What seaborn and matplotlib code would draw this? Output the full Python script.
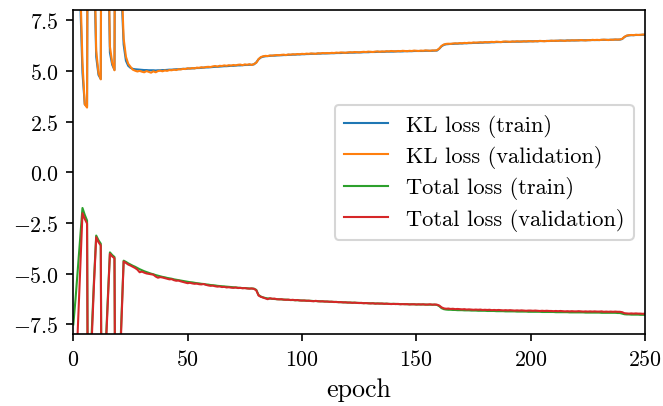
import numpy as np
import pandas as pd
import matplotlib
matplotlib.use("Agg")
import matplotlib.pyplot as plt
import seaborn as sns

# per-epoch values (epochs 0..250)
kl_train = [
    35.0, 22.0, 13.0, 8.6, 4.9, 3.35, 3.25, 38.0, 22.0, 10.5,
    5.7, 4.8, 4.6, 38.0, 21.0, 12.0, 5.9, 5.3, 5.05, 38.0,
    21.0, 9.0, 6.3, 5.5, 5.25, 5.15, 5.10, 5.08, 5.07, 5.06,
    5.05, 5.04, 5.04, 5.03, 5.03, 5.03, 5.02, 5.03, 5.03, 5.04,
    5.04, 5.05, 5.06, 5.06, 5.07, 5.08, 5.08, 5.09, 5.10, 5.10,
    5.11, 5.12, 5.12, 5.13, 5.14, 5.14, 5.15, 5.16, 5.17, 5.17,
    5.18, 5.19, 5.20, 5.20, 5.21, 5.22, 5.23, 5.23, 5.24, 5.25,
    5.25, 5.26, 5.27, 5.27, 5.28, 5.29, 5.29, 5.30, 5.30, 5.32,
    5.42, 5.57, 5.66, 5.70, 5.72, 5.73, 5.74, 5.75, 5.75, 5.76,
    5.77, 5.77, 5.78, 5.78, 5.79, 5.79, 5.80, 5.80, 5.81, 5.81,
    5.82, 5.82, 5.83, 5.83, 5.84, 5.84, 5.84, 5.85, 5.85, 5.86,
    5.86, 5.86, 5.87, 5.87, 5.87, 5.88, 5.88, 5.88, 5.89, 5.89,
    5.89, 5.90, 5.90, 5.90, 5.91, 5.91, 5.91, 5.92, 5.92, 5.92,
    5.93, 5.93, 5.93, 5.94, 5.94, 5.94, 5.94, 5.95, 5.95, 5.95,
    5.95, 5.96, 5.96, 5.96, 5.96, 5.97, 5.97, 5.97, 5.97, 5.98,
    5.98, 5.98, 5.98, 5.98, 5.99, 5.99, 5.99, 5.99, 6.00, 6.00,
    6.09, 6.21, 6.28, 6.31, 6.32, 6.33, 6.33, 6.34, 6.34, 6.35,
    6.35, 6.36, 6.36, 6.37, 6.37, 6.38, 6.38, 6.38, 6.39, 6.39,
    6.40, 6.40, 6.40, 6.41, 6.41, 6.42, 6.42, 6.42, 6.43, 6.43,
    6.43, 6.43, 6.44, 6.44, 6.44, 6.44, 6.45, 6.45, 6.45, 6.45,
    6.46, 6.46, 6.46, 6.46, 6.47, 6.47, 6.47, 6.47, 6.48, 6.48,
    6.48, 6.48, 6.49, 6.49, 6.49, 6.49, 6.50, 6.50, 6.50, 6.50,
    6.50, 6.51, 6.51, 6.51, 6.51, 6.51, 6.52, 6.52, 6.52, 6.52,
    6.52, 6.53, 6.53, 6.53, 6.53, 6.53, 6.54, 6.54, 6.54, 6.54,
    6.57, 6.67, 6.73, 6.75, 6.76, 6.76, 6.77, 6.77, 6.77, 6.78,
    6.78,
]

kl_val = [
    40.0, 28.0, 16.0, 9.4, 5.4, 3.35, 3.19, 45.0, 26.0, 11.7,
    6.0, 4.9, 4.58, 45.0, 24.0, 13.4, 6.2, 5.4, 5.03, 45.0,
    24.0, 9.7, 6.6, 5.7, 5.35, 5.2, 5.06, 5.01, 4.97, 5.00,
    4.96, 4.93, 4.99, 4.95, 4.91, 4.98, 4.93, 4.99, 5.01, 4.98,
    5.02, 5.00, 5.04, 5.03, 5.06, 5.04, 5.08, 5.07, 5.10, 5.09,
    5.13, 5.11, 5.14, 5.12, 5.16, 5.15, 5.18, 5.16, 5.19, 5.20,
    5.19, 5.22, 5.24, 5.21, 5.25, 5.24, 5.27, 5.25, 5.28, 5.26,
    5.29, 5.27, 5.30, 5.31, 5.28, 5.32, 5.30, 5.33, 5.29, 5.34,
    5.40, 5.58, 5.68, 5.72, 5.74, 5.73, 5.76, 5.75, 5.77, 5.78,
    5.77, 5.79, 5.80, 5.78, 5.81, 5.80, 5.82, 5.81, 5.83, 5.82,
    5.84, 5.83, 5.85, 5.84, 5.86, 5.85, 5.84, 5.87, 5.86, 5.88,
    5.87, 5.88, 5.87, 5.89, 5.88, 5.90, 5.89, 5.91, 5.90, 5.89,
    5.91, 5.92, 5.91, 5.93, 5.92, 5.91, 5.93, 5.94, 5.93, 5.95,
    5.94, 5.93, 5.95, 5.96, 5.94, 5.96, 5.95, 5.97, 5.96, 5.98,
    5.97, 5.96, 5.98, 5.97, 5.99, 5.98, 5.97, 5.99, 5.98, 6.00,
    5.99, 5.98, 6.00, 5.99, 6.01, 6.00, 5.99, 6.01, 6.00, 6.02,
    6.10, 6.23, 6.30, 6.33, 6.34, 6.33, 6.35, 6.36, 6.35, 6.37,
    6.36, 6.38, 6.37, 6.39, 6.38, 6.40, 6.39, 6.40, 6.41, 6.40,
    6.42, 6.41, 6.42, 6.43, 6.42, 6.44, 6.43, 6.42, 6.44, 6.45,
    6.44, 6.43, 6.45, 6.44, 6.46, 6.45, 6.44, 6.46, 6.45, 6.47,
    6.46, 6.45, 6.47, 6.46, 6.48, 6.47, 6.46, 6.48, 6.47, 6.49,
    6.48, 6.49, 6.48, 6.50, 6.49, 6.48, 6.50, 6.49, 6.51, 6.50,
    6.51, 6.50, 6.52, 6.51, 6.50, 6.52, 6.51, 6.53, 6.52, 6.53,
    6.52, 6.53, 6.54, 6.53, 6.52, 6.54, 6.53, 6.55, 6.54, 6.55,
    6.58, 6.68, 6.74, 6.76, 6.77, 6.76, 6.78, 6.77, 6.78, 6.79,
    6.79,
]

total_train = [
    -7.5, -6.2, -4.7, -3.2, -1.76, -2.1, -2.38, -28.0, -8.0, -5.4,
    -3.12, -3.35, -3.52, -28.0, -9.0, -6.4, -3.95, -4.08, -4.18, -28.0,
    -10.4, -7.3, -4.36, -4.42, -4.49, -4.55, -4.61, -4.66, -4.72, -4.78,
    -4.83, -4.88, -4.92, -4.96, -5.00, -5.03, -5.07, -5.10, -5.13, -5.16,
    -5.18, -5.21, -5.23, -5.25, -5.28, -5.30, -5.32, -5.34, -5.36, -5.38,
    -5.40, -5.42, -5.43, -5.45, -5.47, -5.48, -5.50, -5.51, -5.53, -5.54,
    -5.56, -5.57, -5.58, -5.60, -5.61, -5.62, -5.63, -5.64, -5.65, -5.66,
    -5.67, -5.68, -5.69, -5.70, -5.71, -5.71, -5.72, -5.73, -5.73, -5.74,
    -5.80, -6.05, -6.13, -6.17, -6.20, -6.22, -6.23, -6.24, -6.25, -6.26,
    -6.26, -6.27, -6.28, -6.28, -6.29, -6.30, -6.30, -6.31, -6.31, -6.32,
    -6.32, -6.33, -6.33, -6.34, -6.34, -6.35, -6.35, -6.36, -6.36, -6.37,
    -6.37, -6.38, -6.38, -6.39, -6.39, -6.40, -6.40, -6.41, -6.41, -6.42,
    -6.42, -6.43, -6.43, -6.43, -6.44, -6.44, -6.45, -6.45, -6.45, -6.46,
    -6.46, -6.46, -6.47, -6.47, -6.47, -6.48, -6.48, -6.48, -6.49, -6.49,
    -6.49, -6.49, -6.50, -6.50, -6.50, -6.50, -6.51, -6.51, -6.51, -6.51,
    -6.52, -6.52, -6.52, -6.52, -6.52, -6.53, -6.53, -6.53, -6.53, -6.54,
    -6.60, -6.70, -6.75, -6.77, -6.78, -6.78, -6.79, -6.79, -6.80, -6.80,
    -6.80, -6.81, -6.81, -6.81, -6.82, -6.82, -6.82, -6.83, -6.83, -6.83,
    -6.83, -6.84, -6.84, -6.84, -6.84, -6.85, -6.85, -6.85, -6.85, -6.86,
    -6.86, -6.86, -6.86, -6.86, -6.87, -6.87, -6.87, -6.87, -6.87, -6.88,
    -6.88, -6.88, -6.88, -6.88, -6.88, -6.89, -6.89, -6.89, -6.89, -6.89,
    -6.89, -6.90, -6.90, -6.90, -6.90, -6.90, -6.90, -6.91, -6.91, -6.91,
    -6.91, -6.91, -6.91, -6.91, -6.92, -6.92, -6.92, -6.92, -6.92, -6.92,
    -6.92, -6.93, -6.93, -6.93, -6.93, -6.93, -6.93, -6.93, -6.94, -6.94,
    -6.97, -7.00, -7.01, -7.01, -7.02, -7.02, -7.02, -7.02, -7.03, -7.03,
    -7.03,
]

total_val = [
    -14.0, -10.4, -7.6, -4.8, -2.02, -2.3, -2.53, -30.0, -8.4, -5.6,
    -3.2, -3.45, -3.61, -30.0, -9.2, -6.6, -4.02, -4.15, -4.24, -30.0,
    -10.7, -7.5, -4.40, -4.47, -4.55, -4.60, -4.66, -4.72, -4.80, -4.93,
    -4.90, -4.95, -4.99, -5.01, -5.03, -5.05, -5.14, -5.20, -5.17, -5.19,
    -5.22, -5.25, -5.28, -5.27, -5.32, -5.35, -5.34, -5.38, -5.41, -5.44,
    -5.47, -5.45, -5.48, -5.50, -5.49, -5.52, -5.53, -5.51, -5.55, -5.58,
    -5.60, -5.59, -5.62, -5.64, -5.63, -5.66, -5.65, -5.68, -5.67, -5.69,
    -5.70, -5.68, -5.71, -5.70, -5.72, -5.71, -5.73, -5.74, -5.73, -5.75,
    -5.82, -6.08, -6.14, -6.18, -6.22, -6.26, -6.21, -6.24, -6.23, -6.26,
    -6.27, -6.26, -6.28, -6.29, -6.28, -6.30, -6.29, -6.31, -6.30, -6.32,
    -6.33, -6.32, -6.34, -6.33, -6.35, -6.36, -6.34, -6.36, -6.37, -6.36,
    -6.38, -6.37, -6.39, -6.38, -6.40, -6.39, -6.41, -6.40, -6.42, -6.41,
    -6.43, -6.42, -6.44, -6.43, -6.44, -6.45, -6.44, -6.46, -6.45, -6.46,
    -6.47, -6.46, -6.48, -6.47, -6.48, -6.47, -6.49, -6.48, -6.49, -6.50,
    -6.49, -6.50, -6.49, -6.51, -6.50, -6.51, -6.50, -6.52, -6.51, -6.51,
    -6.52, -6.51, -6.52, -6.51, -6.53, -6.52, -6.51, -6.53, -6.52, -6.53,
    -6.57, -6.66, -6.71, -6.73, -6.72, -6.74, -6.73, -6.75, -6.74, -6.75,
    -6.76, -6.75, -6.77, -6.76, -6.77, -6.78, -6.77, -6.78, -6.77, -6.79,
    -6.78, -6.79, -6.78, -6.80, -6.79, -6.80, -6.79, -6.80, -6.81, -6.80,
    -6.81, -6.80, -6.81, -6.82, -6.81, -6.82, -6.81, -6.82, -6.83, -6.82,
    -6.82, -6.83, -6.82, -6.83, -6.84, -6.83, -6.84, -6.83, -6.84, -6.84,
    -6.85, -6.84, -6.85, -6.84, -6.85, -6.86, -6.85, -6.86, -6.85, -6.86,
    -6.86, -6.85, -6.86, -6.87, -6.86, -6.87, -6.86, -6.87, -6.86, -6.87,
    -6.87, -6.86, -6.88, -6.87, -6.88, -6.87, -6.88, -6.87, -6.88, -6.88,
    -6.90, -6.95, -6.96, -6.97, -6.96, -6.97, -6.96, -6.97, -6.97, -6.98,
    -6.97,
]

labels = ["KL loss (train)", "KL loss (validation)",
          "Total loss (train)", "Total loss (validation)"]

epochs = np.arange(len(kl_val))

df = pd.DataFrame({
    "epoch": epochs,
    labels[0]: kl_train,
    labels[1]: kl_val,
    labels[2]: total_train,
    labels[3]: total_val,
})

# computer modern look, like the LaTeX figure
plt.rcParams["font.family"] = "serif"
plt.rcParams["font.serif"] = ["cmr10", "DejaVu Serif"]
plt.rcParams["mathtext.fontset"] = "cm"
plt.rcParams["axes.formatter.use_mathtext"] = True
plt.rcParams["font.size"] = 10.5

palette = sns.color_palette("tab10")

fig, ax = plt.subplots(figsize=(4.42, 2.713), dpi=150)
fig.subplots_adjust(left=0.1106, right=0.9729, bottom=0.1757, top=0.973)

for i, lab in enumerate(labels):
    sns.lineplot(data=df, x="epoch", y=lab, ax=ax, label=lab,
                 color=palette[i], linewidth=1.0)

ax.set_xlim(0, 250)
ax.set_ylim(-8, 8)
ax.set_xlabel("epoch", fontsize=12.5)
ax.set_ylabel(None)
ax.legend(loc="center right", fontsize=10.75, labelspacing=0.37)

fig.savefig("out.png", dpi=150)
